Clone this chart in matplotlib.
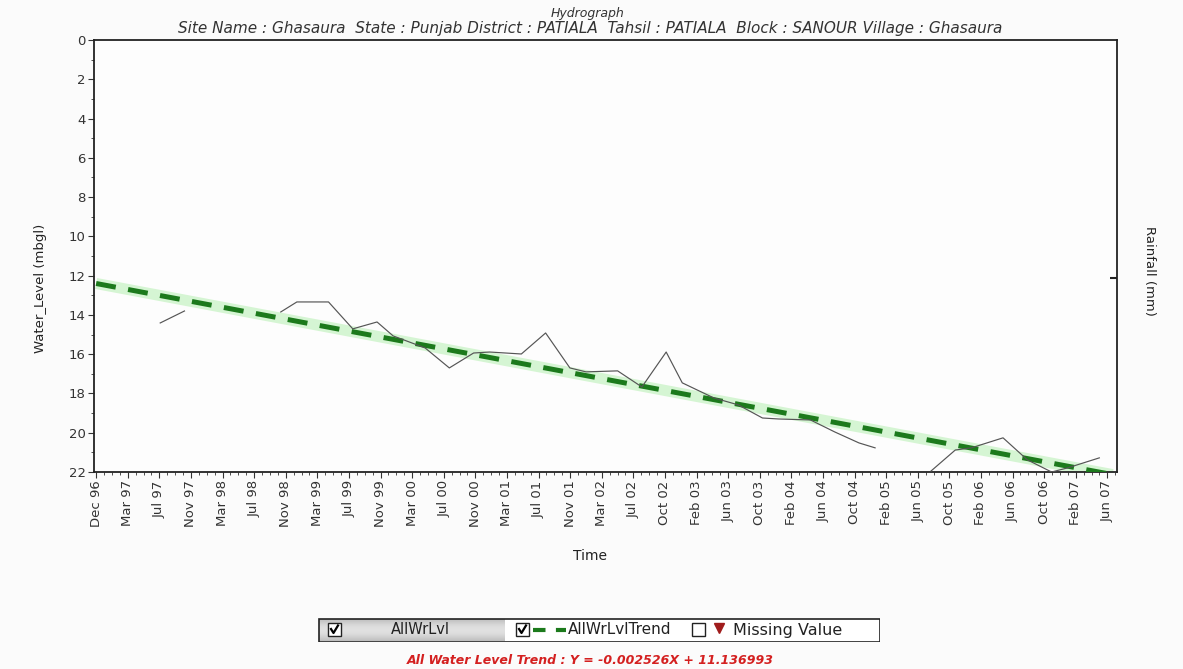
import numpy as np
import pandas as pd
import matplotlib
matplotlib.use("Agg")
import matplotlib.pyplot as plt
from matplotlib.patches import Rectangle

plt.rcParams['font.family'] = ['DejaVu Sans']
plt.rcParams['font.size'] = 9

# water level (m below ground level); NaN breaks the line where readings are missing
wl_dates = ["1997-08-01", "1997-11-01", "1998-05-01", "1998-11-01", "1999-01-01",
            "1999-05-01", "1999-08-01", "1999-11-01", "2000-01-01", "2000-05-01",
            "2000-08-01", "2000-11-01", "2001-01-01", "2001-05-01", "2001-08-01",
            "2001-11-01", "2002-01-01", "2002-05-01", "2002-08-01", "2002-11-01",
            "2003-01-01", "2003-05-01", "2003-08-01", "2003-11-01", "2004-01-01",
            "2004-05-01", "2004-08-01", "2004-11-01", "2005-01-01", "2005-05-01",
            "2005-08-01", "2005-11-01", "2006-01-01", "2006-05-01", "2006-08-01",
            "2006-11-01", "2007-01-01", "2007-05-01"]
wl_levels = [14.41, 13.80, np.nan, 13.85, 13.34,
             13.34, 14.71, 14.36, 15.07, 15.68,
             16.70, 15.94, 15.89, 15.99, 14.92,
             16.70, 16.90, 16.85, 17.67, 15.89,
             17.46, 18.23, 18.58, 19.25, 19.30,
             19.35, 19.96, 20.52, 20.77, np.nan,
             21.95, 20.88, 20.77, 20.26, 21.38,
             22.00, 21.79, 21.28]

# linear trend, slope in metres per day
trend_start = "1996-12-01"
trend_end = "2007-06-20"
trend_level0 = 12.40
trend_slope = 0.002526
trend_text = "All Water Level Trend : Y = -0.002526X + 11.136993"

tick_labels = ["Dec 96", "Mar 97", "Jul 97", "Nov 97", "Mar 98", "Jul 98", "Nov 98",
               "Mar 99", "Jul 99", "Nov 99", "Mar 00", "Jul 00", "Nov 00", "Mar 01",
               "Jul 01", "Nov 01", "Mar 02", "Jul 02", "Oct 02", "Feb 03", "Jun 03",
               "Oct 03", "Feb 04", "Jun 04", "Oct 04", "Feb 05", "Jun 05", "Oct 05",
               "Feb 06", "Jun 06", "Oct 06", "Feb 07", "Jun 07"]
y_ticks = list(range(0, 23, 2))

W, H = 1183, 669
fig = plt.figure(figsize=(W / 100, H / 100), dpi=100, facecolor='#fbfbfb')
ax = fig.add_axes([94 / W, 1 - 472 / H, (1117 - 94) / W, (472 - 40) / H])
ax.set_facecolor('#fdfdfd')

t0 = pd.Timestamp(trend_start)
step = pd.Timedelta(days=119.8)
major = [t0 + k * step for k in range(len(tick_labels))]
minor = [t0 + (k / 4) * step for k in range(4 * (len(tick_labels) - 1) + 2)]

# trend: light halo under thick dark-green dashes
td = pd.date_range(trend_start, trend_end, periods=2)
days = (td - t0).days.values
tl = trend_level0 + trend_slope * days
ax.plot(td, tl, color='#a6eca0', lw=8, alpha=0.45, solid_capstyle='butt', zorder=2)
ax.plot(td, tl, color='#1c7a1c', lw=3.6, dashes=(4, 2.5), zorder=3)

ax.plot(pd.to_datetime(wl_dates), wl_levels, color='#555555', lw=0.85, zorder=4)

ax.set_ylim(22, 0)
ax.set_xlim(t0 - pd.Timedelta(days=8), t0 + pd.Timedelta(days=3870))
ax.set_yticks(y_ticks)
ax.set_yticks(np.arange(1, 22, 2), minor=True)
ax.set_xticks(major)
ax.set_xticklabels(tick_labels, rotation=90)
ax.set_xticks(minor, minor=True)
ax.tick_params(axis='both', which='major', length=4, width=0.8, labelsize=9.5,
               colors='#333333', pad=2)
ax.tick_params(axis='both', which='minor', length=2, width=0.6, color='#333333')
for s in ax.spines.values():
    s.set_linewidth(1.3)
    s.set_color('#222222')

ax.set_xlabel("Time", fontsize=10, color='#222222')
ax.xaxis.set_label_coords(0.485, -0.178)
ax.set_ylabel("Water_Level (mbgl)", fontsize=9.5, color='#222222')
ax.yaxis.set_label_coords(-0.046, 0.426)

# empty rainfall axis on the right
ax2 = ax.twinx()
ax2.set_ylim(0, 1)
ax2.set_yticks([0.45])
ax2.set_yticklabels([''])
ax2.tick_params(axis='y', direction='in', length=5, width=1.5, color='#222222')
ax2.set_ylabel("Rainfall (mm)", fontsize=9.5, color='#222222', rotation=270,
               va='center')
ax2.yaxis.set_label_coords(1.032, 0.465)
for s in ax2.spines.values():
    s.set_visible(False)

fig.text(588 / W, 1 - 13 / H, "Hydrograph", ha='center', va='center',
         style='italic', fontsize=9, color='#333333')
fig.text(590 / W, 1 - 28 / H,
         "Site Name : Ghasaura  State : Punjab District : PATIALA  Tahsil : PATIALA  "
         "Block : SANOUR Village : Ghasaura",
         ha='center', va='center', style='italic', fontsize=11, color='#333333')

# legend strip, drawn in pixel units
lg = fig.add_axes([318 / W, 1 - 642 / H, (880 - 318) / W, 24 / H])
lg.set_xlim(318, 880)
lg.set_ylim(642, 618)
lg.axis('off')
grad = np.linspace(0, 1, 100)[:, None] * np.ones((1, 50))
lg.imshow(0.74 + 0.14 * np.sin(grad * np.pi), cmap='gray', vmin=0, vmax=1,
          extent=[319, 505, 641, 619], aspect='auto', zorder=1)
lg.add_patch(Rectangle((505, 619), 374, 22, facecolor='white', edgecolor='none', zorder=1))
lg.add_patch(Rectangle((318.5, 618.5), 561, 23, facecolor='none', edgecolor='#222222',
                       lw=1.2, zorder=5))


def checkbox(x, checked):
    lg.add_patch(Rectangle((x, 623), 13, 13, facecolor='white', edgecolor='#222222',
                           lw=1, zorder=3))
    if checked:
        lg.plot([x + 3, x + 5.5, x + 10], [629, 633, 625.5], color='black', lw=1.6,
                zorder=4)


checkbox(328, True)
lg.text(420, 630, "AllWrLvl", ha='center', va='center', fontsize=10.5, color='#222222')
checkbox(516, True)
lg.plot([533, 566], [630, 630], color='#1c7a1c', lw=3, dashes=(3, 2.5), zorder=3)
lg.text(568, 630, "AllWrLvlTrend", ha='left', va='center', fontsize=11,
        color='#222222')
checkbox(692, False)
lg.plot([719], [628], marker='v', color='#a01c1c', markersize=7, zorder=3)
lg.text(733, 630, "Missing Value", ha='left', va='center', fontsize=11.5,
        color='#222222')

fig.text(590 / W, 1 - 661 / H, trend_text, ha='center', va='center', style='italic',
         fontweight='bold', fontsize=9, color='#d42020')

fig.savefig("out.png", dpi=100, facecolor=fig.get_facecolor())
plt.close(fig)
